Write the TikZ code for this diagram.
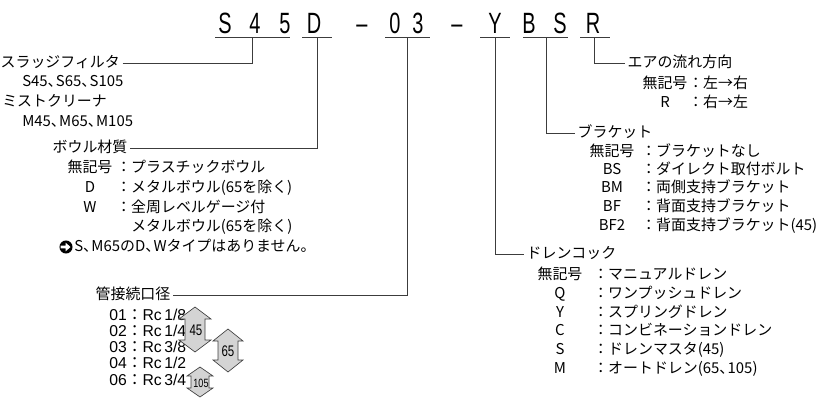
\documentclass[tikz,border=0pt]{standalone}
\usepackage{fontspec}
\setmainfont{Noto Sans CJK JP}
\newfontfamily\codefont[FakeStretch=0.68]{Liberation Sans}
\newfontfamily\rcfont{Liberation Sans}
\newfontfamily\numfont[FakeStretch=0.75]{Liberation Sans}
\definecolor{LeaderGray}{RGB}{60, 60, 60}
\definecolor{ArrowFill}{RGB}{212, 212, 212}
\newcommand{\jcomma}{、\kern-0.45em}

% double size arrow: centre x, top, bottom, head half width, shaft half width, head height
\newcommand{\sizearrow}[6]{%
  \draw[sizearr] (#1,#2) -- ({#1+#4},{#2+#6}) -- ({#1+#5},{#2+#6}) -- ({#1+#5},{#3-#6})
    -- ({#1+#4},{#3-#6}) -- (#1,#3) -- ({#1-#4},{#3-#6}) -- ({#1-#5},{#3-#6})
    -- ({#1-#5},{#2+#6}) -- ({#1-#4},{#2+#6}) -- cycle;}

\begin{document}
\begin{tikzpicture}[x=0.75pt, y=-0.75pt,
    codech/.style={font=\codefont\fontsize{22}{22}\selectfont, inner sep=0pt, anchor=base},
    jp/.style={font=\fontsize{11.2}{13}\selectfont, inner sep=0pt, text height=8.8pt, text depth=1.4pt},
    grouphead/.style={jp, anchor=west, outer xsep=2pt},
    rowval/.style={jp, anchor=west},
    rowkey/.style={jp, anchor=center},
    portrow/.style={font=\rcfont\fontsize{11.8}{13}\selectfont, inner sep=0pt, anchor=west},
    leader/.style={draw=LeaderGray, line width=0.7pt},
    sizearr/.style={draw=black!75, fill=ArrowFill, line width=0.5pt},
    sizelbl/.style={font=\numfont\fontsize{11.5}{11}\selectfont, inner sep=0pt}]
  \useasboundingbox (0,0) rectangle (822,397);

  % Model code
  \foreach \c/\x [count=\i] in {S/225, 4/255, 5/285, D/314, –/362, 0/395, 3/418, –/457, Y/495, B/529, S/560, R/593}
    \node[codech] (ch\i) at (\x,33) {\c};
  \draw[leader] (215,37) -- (290,37) (302,37) -- (332,37) (385,37) -- (430,37)
    (480,37) -- (510,37) (523,37) -- (568,37) (580,37) -- (610,37);
  \coordinate (t45) at (252,37);
  \coordinate (tD) at (317,37);
  \coordinate (t03) at (407,37);
  \coordinate (tY) at (495,37);
  \coordinate (tBS) at (546,37);
  \coordinate (tR) at (594,37);

  % Model
  \node[grouphead] (sludge) at (-2,63) {スラッジフィルタ};
  \node[rowval] (sludgem) at (22,82) {S45\jcomma S65\jcomma S105};
  \node[rowval] (mist) at (2,102) {ミストクリーナ};
  \node[rowval] (mistm) at (22,122) {M45\jcomma M65\jcomma M105};
  \draw[leader] (sludge.east) -| (t45);

  % Bowl material
  \node[grouphead] (bowl) at (50,148) {ボウル材質};
  \foreach \k/\v/\y [count=\i] in {無記号/：プラスチックボウル/168, D/：メタルボウル(65を除く)/188, W/：全周レベルゲージ付/208} {
    \node[rowkey] (bowlk\i) at (90,\y) {\k};
    \node[rowval] (bowlv\i) at (116,\y) {\v};
  }
  \node[rowval] (bowlv4) at (131,227) {メタルボウル(65を除く)};
  \node[circle, fill=black, inner sep=0pt, minimum size=9.8pt] (notesym) at (66,247) {};
  \fill[white] (60.5,245.6) -- (65.5,245.6) -- (65.5,242.6) -- (70.5,247) -- (65.5,251.4)
    -- (65.5,248.4) -- (60.5,248.4) -- cycle;
  \node[rowval] (bowlnote) at (74,247) {S\jcomma M65のD\jcomma Wタイプはありません。};
  \draw[leader] (bowl.east) -| (tD);

  % Port size
  \node[grouphead] (port) at (93,295) {管接続口径};
  \foreach \k/\a/\b/\y [count=\i] in {01/1/8/315, 02/1/4/331, 03/3/8/347, 04/1/2/363, 06/3/4/380}
    \node[portrow] (portv\i) at (109,\y) {\k{\rmfamily ：}Rc\,\a/\b};
  \draw[leader] (port.east) -| (t03);
  \sizearrow{195}{307}{352}{16}{10}{12}
  \node[sizelbl] (a45) at (196,330) {45};
  \sizearrow{228}{329}{372}{15}{10}{12}
  \node[sizelbl] (a65) at (228,351) {65};
  \sizearrow{200}{367}{397}{13}{9}{9}
  \node[sizelbl, font=\numfont\fontsize{9}{9}\selectfont] (a105) at (201,383) {105};

  % Air flow direction
  \node[grouphead] (air) at (625,63) {エアの流れ方向};
  \foreach \k/\v/\y [count=\i] in {無記号/：左→右/84, R/：右→左/103} {
    \node[rowkey] (airk\i) at (665,\y) {\k};
    \node[rowval] (airv\i) at (688,\y) {\v};
  }
  \draw[leader] (tR) |- (air.west);

  % Bracket
  \node[grouphead] (bracket) at (575,133) {ブラケット};
  \foreach \k/\v/\y [count=\i] in {無記号/：ブラケットなし/152, BS/：ダイレクト取付ボルト/170,
      BM/：両側支持ブラケット/188, BF/：背面支持ブラケット/207, BF2/：背面支持ブラケット(45)/226} {
    \node[rowkey] (brk\i) at (612,\y) {\k};
    \node[rowval] (brv\i) at (641,\y) {\v};
  }
  \draw[leader] (tBS) |- (bracket.west);

  % Drain cock
  \node[grouphead] (drain) at (524,254) {ドレンコック};
  \foreach \k/\v/\y [count=\i] in {無記号/：マニュアルドレン/275, Q/：ワンプッシュドレン/294, Y/：スプリングドレン/313,
      C/：コンビネーションドレン/331, S/：ドレンマスタ(45)/350, M/：オートドレン(65\jcomma 105)/369} {
    \node[rowkey] (drk\i) at (560,\y) {\k};
    \node[rowval] (drv\i) at (593,\y) {\v};
  }
  \draw[leader] (tY) |- (drain.west);
\end{tikzpicture}
\end{document}
